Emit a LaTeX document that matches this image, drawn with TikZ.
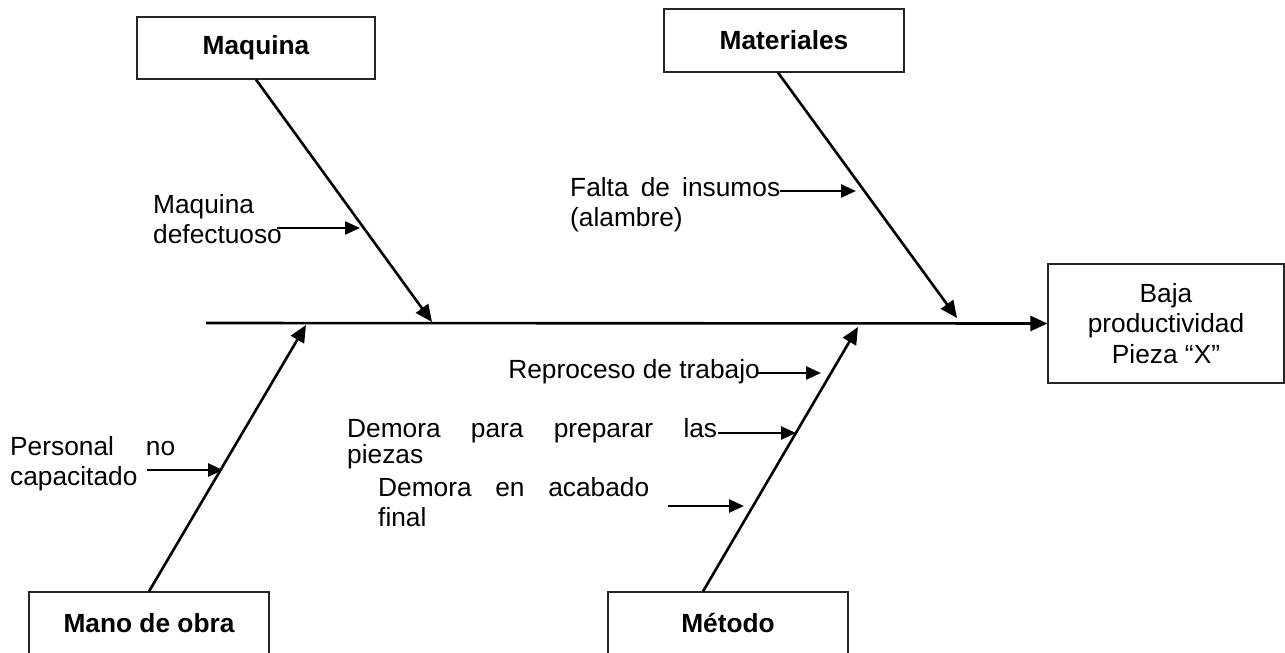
\documentclass[tikz,border=0pt]{standalone}
\usepackage{fontspec}
\setmainfont{Liberation Sans}
\usetikzlibrary{arrows.meta}

\begin{document}
\begin{tikzpicture}[x=1pt,y=-1pt]
	\tikzstyle{every node}+=[inner sep=0pt, font=\fontsize{26.3}{30.5}\selectfont]
	\tikzstyle{box}=[draw=black!85, line width=1.2pt, minimum height=62pt, font=\fontsize{26.3}{30.5}\selectfont\bfseries]
	\tikzstyle{bone}=[line width=2.6pt, -{Triangle[length=17pt,width=15pt]}]
	\tikzstyle{sub}=[line width=2.6pt, -{Triangle[length=15pt,width=13pt]}]
	\tikzstyle{cause}=[anchor=north west, align=left]
	\useasboundingbox (0,0) rectangle (1285,653);
	\clip (0,0) rectangle (1285,653);
	% categorias
	\node [box, minimum width=238pt] (maq) at (256,48) {Maquina};
	\node [box, minimum width=240pt, minimum height=63pt] (mat) at (784,40.5) {Materiales};
	\node [box, minimum width=240pt] (mano) at (149,623) {Mano de obra};
	\node [box, minimum width=240pt] (met) at (728,623) {Método};
	\node [box, font=\fontsize{26.3}{30.5}\selectfont, align=center, minimum width=236pt, minimum height=119pt] (baja) at (1166,323.5) {Baja\\productividad\\Pieza “X”};
	% espina
	\coordinate (cola) at (206,323);
	\coordinate (pmaq) at (432,322);
	\coordinate (pmat) at (957,318);
	\coordinate (pmano) at (306,325);
	\coordinate (pmet) at (858,327);
	\draw [bone] (cola) -- (baja.west);
	\draw [bone] (maq.south) -- (pmaq);
	\draw [bone] ([xshift=-6pt]mat.south) -- (pmat);
	\draw [bone] (mano.north) -- (pmano);
	\draw [bone] ([xshift=-25pt]met.north) -- (pmet);
	% causas
	\node [cause] (defectuoso) at (153,194) {Maquina\\defectuoso};
	\node [cause, text width=210pt] (insumos) at (570,177) {Falta\hfill de\hfill insumos\\(alambre)};
	\node [anchor=base east] (reproceso) at (760,378) {Reproceso de trabajo};
	\node [cause, text width=370pt, font=\fontsize{26.3}{26}\selectfont] (preparar) at (347,418) {Demora\hfill para\hfill preparar\hfill las\\piezas};
	\node [cause, text width=271pt] (acabado) at (378,477) {Demora\hfill en\hfill acabado\\final};
	\node [cause, text width=165pt] (personal) at (10,436) {Personal\hfill no\\capacitado};
	\coordinate (a1) at (277,228); \coordinate (b1) at (360,228);
	\coordinate (a2) at (780,191); \coordinate (b2) at (856,191);
	\coordinate (a3) at (757,373); \coordinate (b3) at (821,373);
	\coordinate (a4) at (718,433); \coordinate (b4) at (796,433);
	\coordinate (a5) at (668,506); \coordinate (b5) at (744,506);
	\coordinate (a6) at (147,470); \coordinate (b6) at (223,470);
	\draw [sub] (a1) -- (b1);
	\draw [sub] (a2) -- (b2);
	\draw [sub] (a3) -- (b3);
	\draw [sub] (a4) -- (b4);
	\draw [sub] (a5) -- (b5);
	\draw [sub] (a6) -- (b6);
\end{tikzpicture}
\end{document}
